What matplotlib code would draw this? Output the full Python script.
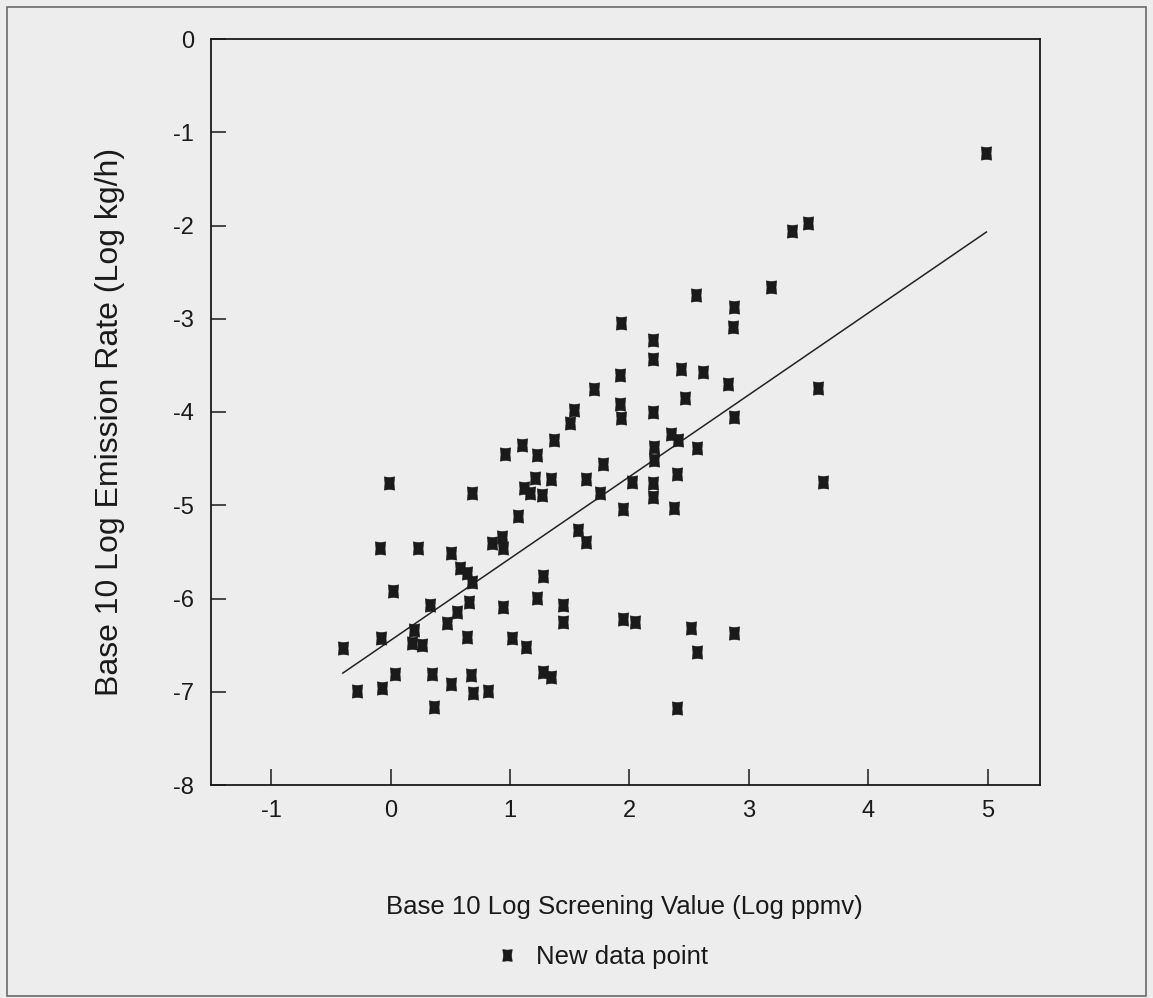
import matplotlib
matplotlib.use("Agg")
import matplotlib.pyplot as plt
from matplotlib.path import Path
from matplotlib.patches import Rectangle

plt.rcParams['font.family'] = ['Liberation Sans', 'DejaVu Sans']
plt.rcParams['axes.unicode_minus'] = False

# ---- data ----
screening_log = [
    4.99, 3.50, 3.36, 3.19, 2.56, 2.88, 2.87, 1.93, 2.20, 2.20,
    1.92, 2.43, 2.62, 2.83, 3.58, 1.70, 2.47, 1.92, 1.93, 2.20,
    2.88, 1.54, 1.50, 1.37, 1.10, 0.96, 1.23, 2.35, 2.41, 2.57,
    2.21, 2.21, 1.78, 1.64, 1.75, 2.02, 2.20, 2.20, 2.40, 2.37,
    1.95, 1.12, 1.21, 1.34, 1.27, 1.17, 0.68, -0.01, 1.07, 1.57,
    1.64, 0.85, 0.93, 0.94, -0.09, 0.23, 0.51, 0.58, 0.64, 0.68,
    1.28, 0.02, 1.23, 1.44, 1.44, 0.94, 0.66, 0.33, 0.56, 0.47,
    1.95, 2.05, 2.52, 2.88, 2.57, 0.64, 1.02, 1.13, 0.20, 0.18,
    0.26, -0.08, -0.40, 0.04, 0.35, 0.67, 0.51, 0.69, 0.82, -0.28,
    -0.07, 0.36, 1.28, 1.34, 2.40, 3.62,
]
emission_log = [
    -1.22, -1.97, -2.06, -2.66, -2.75, -2.87, -3.09, -3.05, -3.23, -3.43,
    -3.60, -3.54, -3.57, -3.70, -3.74, -3.75, -3.85, -3.91, -4.06, -4.00,
    -4.05, -3.98, -4.12, -4.30, -4.35, -4.45, -4.46, -4.24, -4.30, -4.39,
    -4.38, -4.51, -4.56, -4.72, -4.87, -4.75, -4.76, -4.91, -4.66, -5.03,
    -5.04, -4.81, -4.71, -4.72, -4.89, -4.87, -4.87, -4.76, -5.12, -5.27,
    -5.39, -5.40, -5.34, -5.46, -5.46, -5.46, -5.51, -5.67, -5.73, -5.82,
    -5.76, -5.92, -5.99, -6.07, -6.25, -6.09, -6.04, -6.07, -6.14, -6.26,
    -6.22, -6.25, -6.32, -6.37, -6.57, -6.41, -6.42, -6.52, -6.34, -6.48,
    -6.50, -6.42, -6.53, -6.81, -6.81, -6.82, -6.92, -7.01, -6.99, -6.99,
    -6.96, -7.16, -6.79, -6.84, -7.17, -4.75,
]
fit_x = [-0.40, 4.99]
fit_y = [-6.80, -2.07]

x_ticks = [-1, 0, 1, 2, 3, 4, 5]
y_ticks = [0, -1, -2, -3, -4, -5, -6, -7, -8]

# ---- figure ----
W, H = 1153, 998
bg = '#ededed'
ink = '#1a1a1a'
fig = plt.figure(figsize=(W / 100, H / 100), dpi=100, facecolor=bg)
ax = fig.add_axes([211 / W, 1 - 785 / H, 829 / W, 746 / H], facecolor=bg)

# slightly pinched square marker
verts = [(-0.8, -1), (0, -0.9), (0.8, -1), (0.68, 0), (0.8, 1),
         (0, 0.9), (-0.8, 1), (-0.68, 0), (-0.8, -1)]
codes = [Path.MOVETO] + [Path.LINETO] * 7 + [Path.CLOSEPOLY]
bowtie = Path(verts, codes)

ax.plot(fit_x, fit_y, color='#222222', lw=1.1, zorder=2)
ax.plot(screening_log, emission_log, linestyle='none', marker=bowtie,
        ms=9.6, color=ink, mec=ink, mew=0.3, zorder=3, label='New data point')

ax.set_xlim(-1.504, 5.439)
ax.set_ylim(-8, 0)
ax.set_xticks(x_ticks)
ax.set_yticks(y_ticks)
ax.set_xticklabels([str(v) for v in x_ticks])
ax.set_yticklabels([str(v) for v in y_ticks])

for s in ax.spines.values():
    s.set_linewidth(1.3)
    s.set_color(ink)

ax.tick_params(axis='x', direction='in', length=11.5, width=1.1, pad=11,
               labelsize=17, colors=ink)
ax.tick_params(axis='y', direction='in', length=10.5, width=1.1, pad=12,
               labelsize=17, colors=ink)

ax.set_xlabel('Base 10 Log Screening Value (Log ppmv)', fontsize=18.5, color=ink)
ax.set_ylabel('Base 10 Log Emission Rate (Log kg/h)', fontsize=23, color=ink)
ax.xaxis.set_label_coords((624 - 211) / 829, (785 - 907) / 746)
ax.xaxis.label.set_va('center')
ax.yaxis.set_label_coords((110 - 211) / 829, (785 - 422) / 746)
ax.yaxis.label.set_va('center')

ax.legend(loc='center', bbox_to_anchor=(601 / W, 1 - 957 / H),
          bbox_transform=fig.transFigure, frameon=False, fontsize=18.5,
          handlelength=1.0, handletextpad=0.6, borderpad=0, markerscale=0.9,
          labelcolor=ink)

# outer page border of the scanned figure
fig.patches.append(Rectangle((7 / W, 1 - 996 / H), (1146 - 7) / W, (996 - 7) / H,
                             transform=fig.transFigure, fill=False,
                             edgecolor='#6a6a6a', lw=1.2))

fig.savefig('out.png', dpi=100, facecolor=bg)
